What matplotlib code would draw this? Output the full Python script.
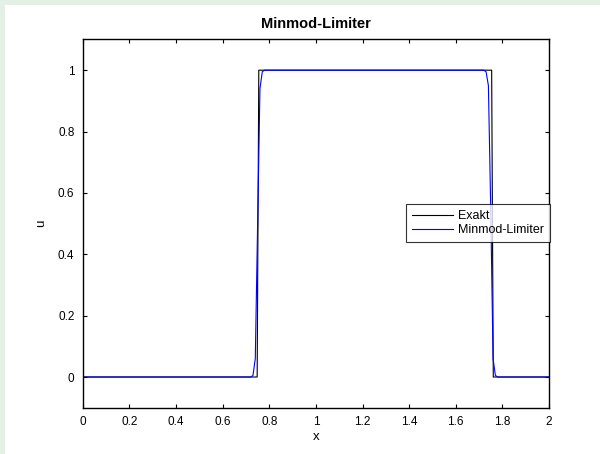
import matplotlib
matplotlib.use("Agg")
import matplotlib.pyplot as plt
from matplotlib.patches import Rectangle

plt.rcParams['font.family'] = ['Liberation Sans', 'DejaVu Sans']

# Exact solution (step breakpoints)
exact_x = [0.0, 0.748, 0.755, 1.754, 1.761, 2.0]
exact_u = [0.0, 0.0, 1.0, 1.0, 0.0, 0.0]

# Minmod-Limiter numerical solution
num_x = [0.0, 0.72, 0.73, 0.74, 0.75, 0.76, 0.77, 0.78,
         1.72, 1.73, 1.74, 1.75, 1.76, 1.77, 1.78, 2.0]
num_u = [0.0, 0.0, 0.005, 0.06, 0.5, 0.94, 0.995, 1.0,
         1.0, 0.995, 0.95, 0.55, 0.06, 0.005, 0.0, 0.0]

xticks = [0, 0.2, 0.4, 0.6, 0.8, 1, 1.2, 1.4, 1.6, 1.8, 2]
xticklabels = ["0", "0.2", "0.4", "0.6", "0.8", "1", "1.2", "1.4", "1.6", "1.8", "2"]
yticks = [0, 0.2, 0.4, 0.6, 0.8, 1]
yticklabels = ["0", "0.2", "0.4", "0.6", "0.8", "1"]

fig = plt.figure(figsize=(6, 4.54), dpi=100)
fig.patch.set_facecolor('#e4efe5')
bg = Rectangle((5/600, 0), 1, 1 - 5/454, transform=fig.transFigure,
               facecolor='white', edgecolor='none', zorder=-10)
fig.add_artist(bg)

ax = fig.add_axes([0.138, 0.102, 0.777, 0.811])
ax.set_zorder(1)
ax.plot(exact_x, exact_u, color='black', lw=0.8, label='Exakt')
ax.plot(num_x, num_u, color='blue', lw=0.8, label='Minmod-Limiter')

ax.set_xlim(0, 2)
ax.set_ylim(-0.1, 1.1)
ax.set_xticks(xticks)
ax.set_xticklabels(xticklabels)
ax.set_yticks(yticks)
ax.set_yticklabels(yticklabels)
ax.tick_params(direction='in', length=3, width=0.8, top=True, right=True,
               labelsize=8.5, pad=6)
for s in ax.spines.values():
    s.set_linewidth(1.0)
    s.set_color('black')

ax.set_title('Minmod-Limiter', fontsize=10.5, fontweight='bold', pad=8)
ax.set_xlabel('x', fontsize=9.5, labelpad=2)
ax.set_ylabel('u', fontsize=9.5, labelpad=8)

leg = ax.legend(loc='upper right', bbox_to_anchor=(1.003, 0.553), fontsize=9,
                frameon=True, fancybox=False, borderaxespad=0, handlelength=3.3,
                handletextpad=0.4, borderpad=0.5, labelspacing=0.15)
leg.get_frame().set_edgecolor('black')
leg.get_frame().set_linewidth(0.8)

fig.savefig('out.png', dpi=100, facecolor=fig.get_facecolor())
